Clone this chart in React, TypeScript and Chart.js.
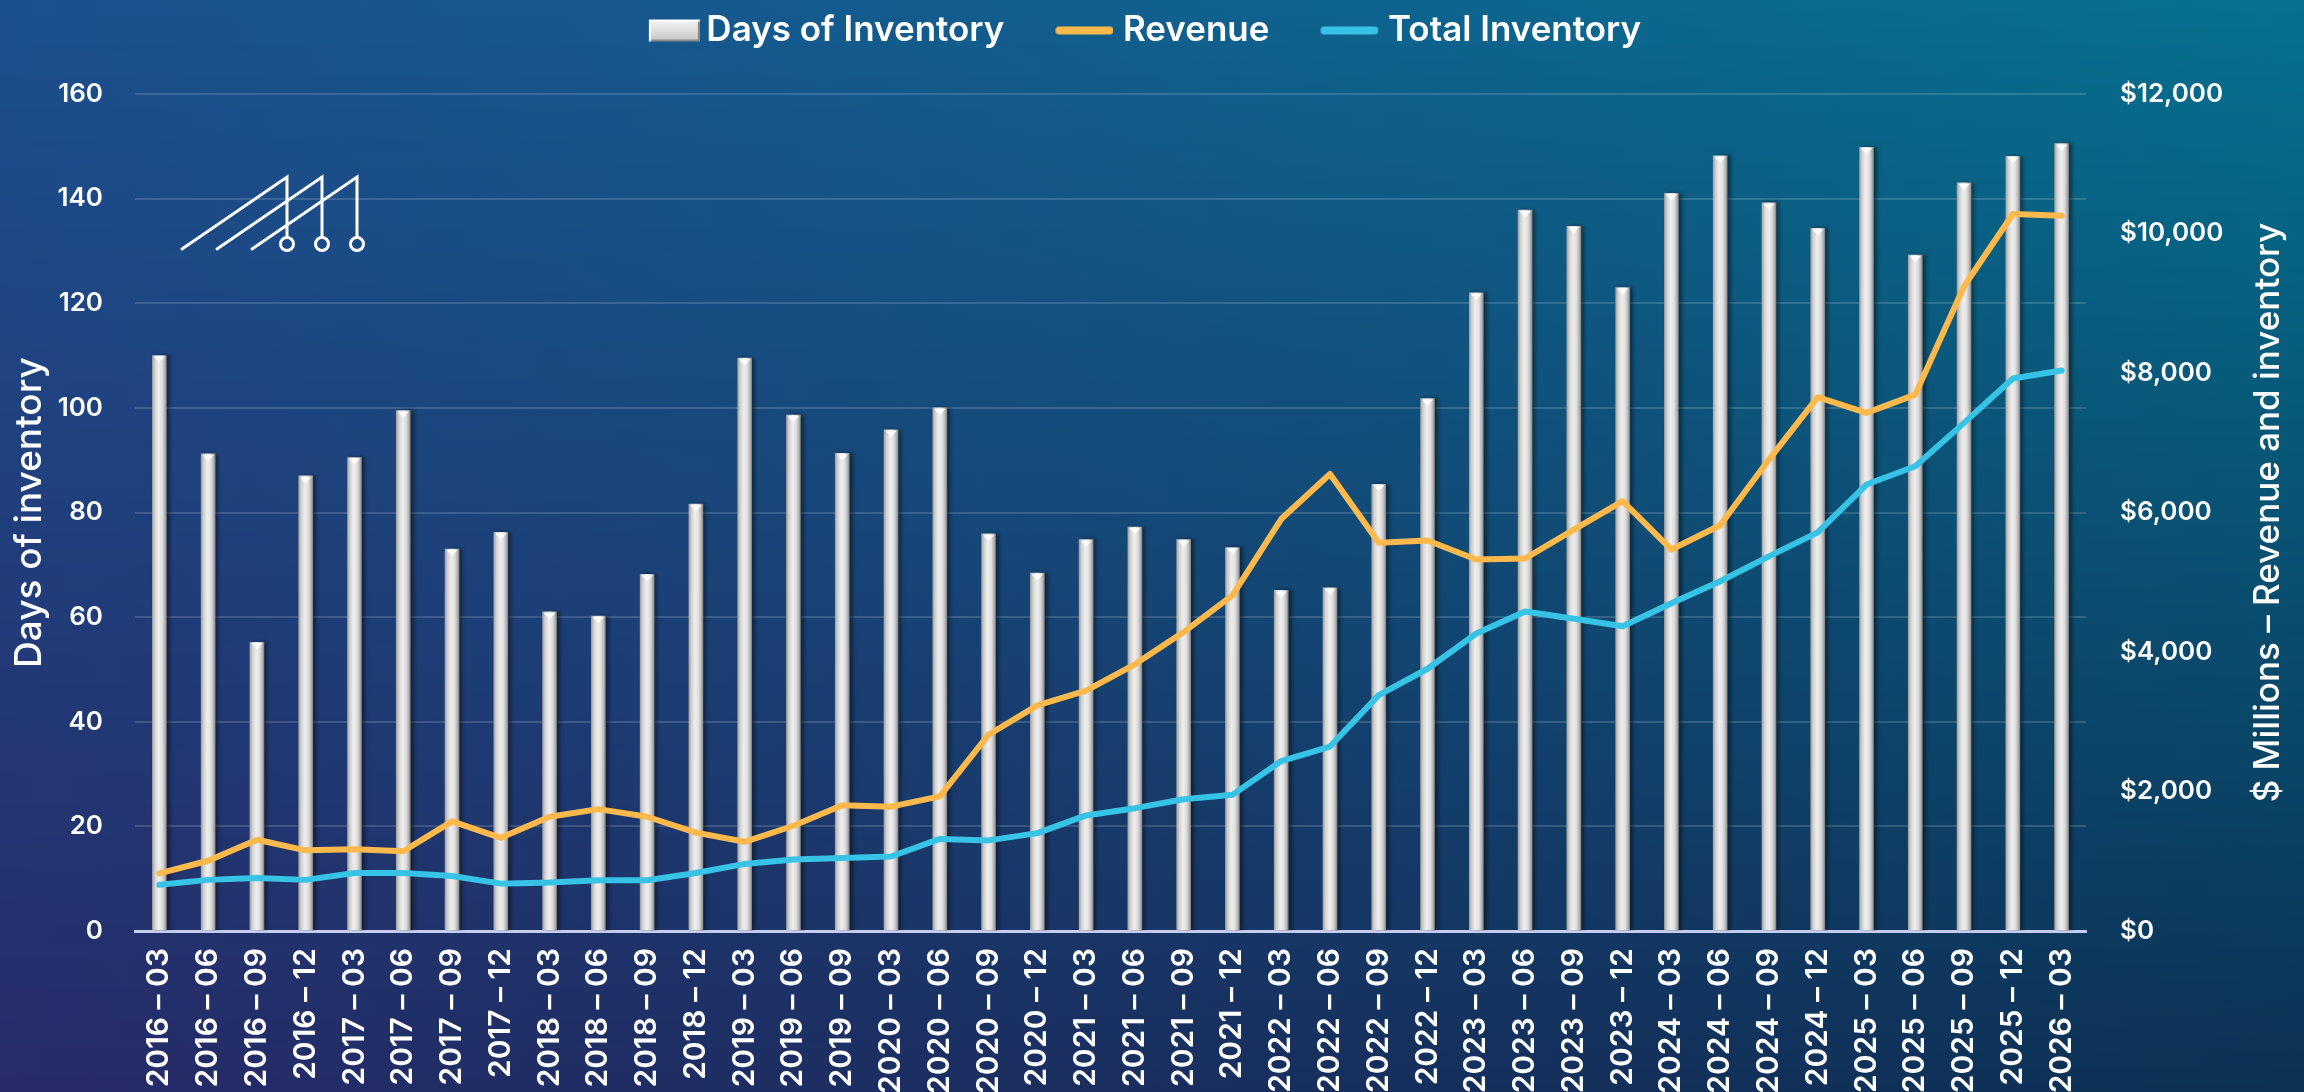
import React, { useEffect, useRef } from 'react';
import { Chart, registerables } from 'chart.js';

Chart.register(...registerables);

const quarterLabels = [
  '2016 – 03', '2016 – 06', '2016 – 09', '2016 – 12',
  '2017 – 03', '2017 – 06', '2017 – 09', '2017 – 12',
  '2018 – 03', '2018 – 06', '2018 – 09', '2018 – 12',
  '2019 – 03', '2019 – 06', '2019 – 09',
  '2020 – 03', '2020 – 06', '2020 – 09', '2020 – 12',
  '2021 – 03', '2021 – 06', '2021 – 09', '2021 – 12',
  '2022 – 03', '2022 – 06', '2022 – 09', '2022 – 12',
  '2023 – 03', '2023 – 06', '2023 – 09', '2023 – 12',
  '2024 – 03', '2024 – 06', '2024 – 09', '2024 – 12',
  '2025 – 03', '2025 – 06', '2025 – 09', '2025 – 12',
  '2026 – 03',
];

const daysOfInventory = [
  110, 91.2, 55.2, 87, 90.5, 99.5, 73, 76.2, 61, 60.2, 68.2, 81.6,
  109.5, 98.6, 91.3,
  95.8, 100, 75.9, 68.4, 74.8, 77.2, 74.8, 73.3, 65.1, 65.6, 85.4, 101.8,
  122, 137.8, 134.7, 123, 141, 148.2, 139.2, 134.3, 149.8, 129.2, 143, 148.1,
  150.5,
];

const revenue = [
  826, 1007, 1309, 1156, 1172, 1144, 1572, 1336, 1638, 1747, 1638, 1410,
  1279, 1509, 1804,
  1783, 1930, 2814, 3235, 3445, 3823, 4286, 4812, 5906, 6553, 5565, 5598,
  5326, 5340, 5755, 6162, 5469, 5818, 6759, 7653, 7428, 7690, 9244, 10280,
  10256,
];

const totalInventory = [
  662, 733, 760, 733, 832, 832, 788, 679, 695, 727, 727, 832,
  962, 1025, 1047,
  1068, 1320, 1299, 1403, 1657, 1761, 1889, 1952, 2436, 2645, 3382, 3760,
  4266, 4581, 4476, 4370, 4700, 5015, 5370, 5715, 6401, 6663, 7285, 7920,
  8035,
];

const leftAxisTitle = 'Days of inventory';
const rightAxisTitle = '$ Millions – Revenue and inventory';
const seriesNames = ['Days of Inventory', 'Revenue', 'Total Inventory'];

const REVENUE_COLOR = '#fdb94b';
const INVENTORY_COLOR = '#37c3e6';
const FONT = 'Inter, "Noto Sans", "DejaVu Sans", sans-serif';

function makeBoxIcon(): HTMLCanvasElement {
  const c = document.createElement('canvas');
  c.width = 110;
  c.height = 24;
  const g = c.getContext('2d')!;
  const x0 = 59, w = 51, y0 = 1, h = 22;
  const grd = g.createLinearGradient(0, y0, 0, y0 + h);
  grd.addColorStop(0, '#f6f6f6');
  grd.addColorStop(1, '#c6c6c6');
  g.fillStyle = grd;
  g.fillRect(x0, y0, w, h);
  g.fillStyle = '#8a8a8a';
  g.fillRect(x0, y0 + h - 2, w, 2);
  g.fillRect(x0 + w - 2, y0, 2, h);
  g.fillStyle = '#ffffff';
  g.fillRect(x0, y0, w, 2);
  g.fillRect(x0, y0, 2, h);
  return c;
}

function makeLineIcon(color: string): HTMLCanvasElement {
  const c = document.createElement('canvas');
  c.width = 104;
  c.height = 12;
  const g = c.getContext('2d')!;
  g.strokeStyle = color;
  g.lineWidth = 8;
  g.lineCap = 'round';
  g.beginPath();
  g.moveTo(50, 6);
  g.lineTo(100, 6);
  g.stroke();
  return c;
}

const bgPlugin = {
  id: 'bgGradient',
  beforeDraw(chart: any) {
    const { ctx, width, height } = chart;
    const TL = [28, 79, 142], TR = [5, 113, 143], BL = [39, 43, 105], BR = [11, 49, 84];
    ctx.save();
    for (let y = 0; y < height; y += 2) {
      const t = y / height;
      const l = TL.map((v, i) => Math.round(v + (BL[i] - v) * t));
      const r = TR.map((v, i) => Math.round(v + (BR[i] - v) * t));
      const g = ctx.createLinearGradient(0, 0, width, 0);
      g.addColorStop(0, `rgb(${l[0]},${l[1]},${l[2]})`);
      g.addColorStop(1, `rgb(${r[0]},${r[1]},${r[2]})`);
      ctx.fillStyle = g;
      ctx.fillRect(0, y, width, 2);
    }
    ctx.restore();
  },
};

const barDecorPlugin = {
  id: 'barDecor',
  beforeDatasetDraw(chart: any, args: any) {
    if (args.index !== 0) return;
    const ctx = chart.ctx;
    ctx.save();
    ctx.shadowColor = 'rgba(0,0,0,0.45)';
    ctx.shadowBlur = 4;
    ctx.shadowOffsetX = 3;
    ctx.shadowOffsetY = 0;
  },
  afterDatasetDraw(chart: any, args: any) {
    if (args.index !== 0) return;
    const ctx = chart.ctx;
    ctx.restore();
    ctx.save();
    ctx.fillStyle = '#ffffff';
    args.meta.data.forEach((el: any) => {
      const { x, y, width } = el.getProps(['x', 'y', 'width'], true);
      ctx.beginPath();
      ctx.moveTo(x - width / 2 + 1.5, y + 1);
      ctx.lineTo(x + width / 2 - 1.5, y + 1);
      ctx.lineTo(x, y + 7);
      ctx.closePath();
      ctx.fill();
    });
    ctx.restore();
  },
};

const decorPlugin = {
  id: 'decor',
  afterDraw(chart: any) {
    const { ctx, chartArea } = chart;
    // right axis title, reading bottom to top
    ctx.save();
    ctx.translate(chart.width - 36, (chartArea.top + chartArea.bottom) / 2);
    ctx.rotate(-Math.PI / 2);
    ctx.font = `500 35px ${FONT}`;
    ctx.fillStyle = '#ffffff';
    ctx.textAlign = 'center';
    ctx.textBaseline = 'middle';
    ctx.fillText(rightAxisTitle, 0, 0);
    ctx.restore();

    // logo
    ctx.save();
    ctx.strokeStyle = '#ffffff';
    ctx.lineWidth = 3;
    ctx.lineCap = 'round';
    for (let k = 0; k < 3; k++) {
      const dx = 35 * k;
      ctx.beginPath();
      ctx.moveTo(182 + dx, 249);
      ctx.lineTo(287 + dx, 177);
      ctx.lineTo(287 + dx, 237.5);
      ctx.stroke();
      ctx.beginPath();
      ctx.arc(287 + dx, 244, 6.5, 0, Math.PI * 2);
      ctx.stroke();
    }
    ctx.restore();
  },
};

const legendSpacerPlugin = {
  id: 'legendSpacer',
  beforeLayout(chart: any) {
    const legend = chart.legend;
    if (!legend || legend._spaced) return;
    const orig = legend.fit;
    legend.fit = function () {
      orig.call(this);
      this.height += 36;
    };
    legend._spaced = true;
  },
};

export default function App() {
  const ref = useRef<HTMLCanvasElement>(null);

  useEffect(() => {
    const canvas = ref.current;
    if (!canvas) return;
    const icons = [makeBoxIcon(), makeLineIcon(REVENUE_COLOR), makeLineIcon(INVENTORY_COLOR)];

    const barFill = (c: any) => {
      const chart = c.chart;
      const xs = chart.scales && chart.scales.x;
      if (!xs || c.dataIndex === undefined) return '#dddddd';
      const cx = xs.getPixelForValue(c.dataIndex);
      const g = chart.ctx.createLinearGradient(cx - 7, 0, cx + 7, 0);
      g.addColorStop(0, '#a2a2a2');
      g.addColorStop(0.18, '#d2d2d2');
      g.addColorStop(0.45, '#efefef');
      g.addColorStop(0.7, '#dedede');
      g.addColorStop(0.9, '#b0b0b0');
      g.addColorStop(1, '#858585');
      return g;
    };

    const chart = new Chart(canvas, {
      type: 'bar',
      data: {
        labels: quarterLabels,
        datasets: [
          {
            type: 'bar',
            label: seriesNames[0],
            data: daysOfInventory,
            yAxisID: 'y',
            backgroundColor: barFill as any,
            borderWidth: 0,
            barThickness: 14,
            order: 3,
          },
          {
            type: 'line',
            label: seriesNames[1],
            data: revenue,
            yAxisID: 'y1',
            borderColor: REVENUE_COLOR,
            backgroundColor: REVENUE_COLOR,
            borderWidth: 6,
            pointRadius: 0,
            tension: 0,
            borderJoinStyle: 'round',
            borderCapStyle: 'round',
            order: 2,
          } as any,
          {
            type: 'line',
            label: seriesNames[2],
            data: totalInventory,
            yAxisID: 'y1',
            borderColor: INVENTORY_COLOR,
            backgroundColor: INVENTORY_COLOR,
            borderWidth: 6,
            pointRadius: 0,
            tension: 0,
            borderJoinStyle: 'round',
            borderCapStyle: 'round',
            order: 1,
          } as any,
        ],
      },
      options: {
        responsive: false,
        animation: false,
        devicePixelRatio: 1,
        layout: { padding: { top: 0, right: 62, bottom: 0, left: 0 } },
        plugins: {
          tooltip: { enabled: false },
          legend: {
            display: true,
            position: 'top',
            labels: {
              usePointStyle: true,
              pointStyleWidth: 88,
              padding: 13,
              color: '#ffffff',
              font: { family: FONT, size: 35, weight: '600' as any },
              generateLabels: () =>
                seriesNames.map((name, i) => ({
                  text: name,
                  fillStyle: 'rgba(0,0,0,0)',
                  strokeStyle: 'rgba(0,0,0,0)',
                  lineWidth: 0,
                  pointStyle: icons[i] as any,
                  hidden: false,
                  datasetIndex: i,
                  fontColor: '#ffffff',
                })),
            },
          },
        },
        scales: {
          x: {
            type: 'category',
            offset: true,
            grid: { display: false, drawTicks: false },
            border: { display: true, color: 'rgba(205,212,245,0.95)', width: 3 },
            ticks: {
              autoSkip: false,
              minRotation: 90,
              maxRotation: 90,
              padding: 17,
              color: '#ffffff',
              font: { family: FONT, size: 30, weight: '600' as any },
            },
            afterFit: (s: any) => {
              s.height = 161;
            },
          },
          y: {
            position: 'left',
            min: 0,
            max: 160,
            ticks: {
              stepSize: 20,
              padding: 32,
              color: '#ffffff',
              font: { family: FONT, size: 26, weight: '600' as any },
            },
            grid: { color: 'rgba(255,255,255,0.15)', lineWidth: 2, drawTicks: false },
            border: { display: false },
            title: {
              display: true,
              text: leftAxisTitle,
              color: '#ffffff',
              padding: { top: 8, bottom: 0 },
              font: { family: FONT, size: 37, weight: '500' as any },
            },
            afterFit: (s: any) => {
              s.width = 135;
            },
          },
          y1: {
            position: 'right',
            min: 0,
            max: 12000,
            ticks: {
              stepSize: 2000,
              padding: 34,
              color: '#ffffff',
              font: { family: FONT, size: 26, weight: '600' as any },
              callback: (v: any) => '$' + Number(v).toLocaleString('en-US'),
            },
            grid: { drawOnChartArea: false, drawTicks: false },
            border: { display: false },
            afterFit: (s: any) => {
              s.width = 156;
            },
          },
        },
      },
      plugins: [bgPlugin, barDecorPlugin, decorPlugin, legendSpacerPlugin],
    } as any);

    return () => chart.destroy();
  }, []);

  return (
    <div
      style={{
        position: 'fixed',
        left: 0,
        top: 0,
        width: 2304,
        height: 1092,
        background: '#173a70',
        overflow: 'hidden',
      }}
    >
      <canvas ref={ref} width={2304} height={1092} style={{ display: 'block', width: 2304, height: 1092 }} />
    </div>
  );
}
